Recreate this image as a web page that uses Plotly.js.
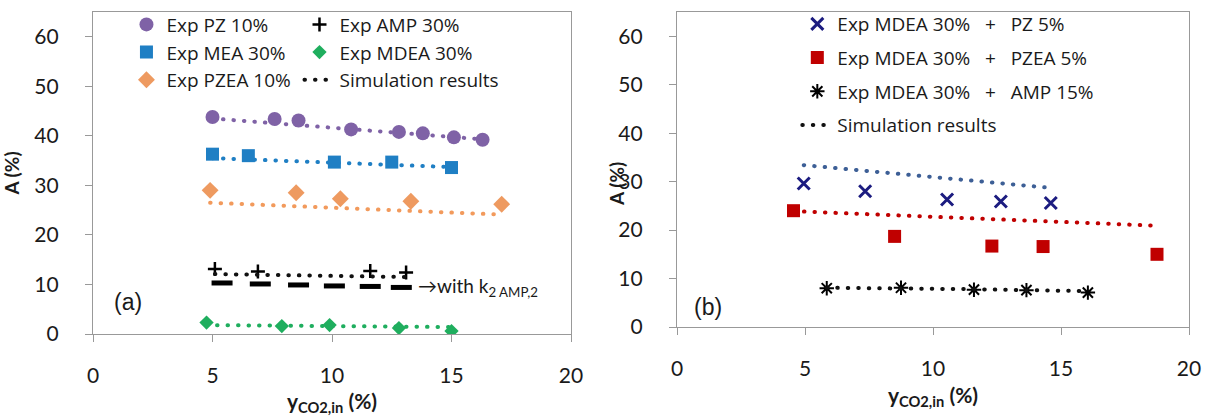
<!DOCTYPE html>
<html><head><meta charset="utf-8">
<script src="https://cdn.plot.ly/plotly-3.0.1.min.js"></script>
<style>
body{margin:0;background:#fff;}
#pa,#pb{position:absolute;top:0;height:416px;}
#pa{left:0;width:590px;} #pb{left:590px;width:618px;}
#pa path.js-line, #pb path.js-line, #pa .legendlines path, #pb .legendlines path {stroke-linecap: round;}
</style>
</head><body>
<div id="pa"></div><div id="pb"></div>
<script>
// ---------- Panel (a) data ----------
const pzX = [5.0, 7.6, 8.6, 10.8, 12.8, 13.8, 15.1, 16.3];
const pzY = [43.8, 43.4, 43.1, 41.3, 40.8, 40.5, 39.7, 39.2];
const pzSim = [43.5, 42.5, 42.1, 41.3, 40.6, 40.2, 39.7, 39.3];

const meaX = [5.0, 6.5, 10.1, 12.5, 15.0];
const meaY = [36.3, 36.0, 34.7, 34.7, 33.6];
const meaSim = [35.5, 35.2, 34.6, 34.2, 33.7];

const pzeaX = [4.9, 8.5, 10.35, 13.3, 17.1];
const pzeaY = [29.0, 28.5, 27.3, 26.8, 26.2];
const pzeaSim = [26.5, 25.8, 25.4, 24.8, 24.1];

const ampX = [5.1, 6.9, 11.6, 13.1];
const ampY = [13.1, 12.6, 12.7, 12.4];
const ampSim = [12.1, 12.0, 11.6, 11.5];

const ampK2X = [5.4, 7.0, 8.6, 10.1, 11.6, 12.9];
const ampK2Y = [10.3, 10.1, 9.9, 9.7, 9.6, 9.4];

const mdeaX = [4.75, 7.9, 9.9, 12.8, 15.0];
const mdeaY = [2.3, 1.6, 1.8, 1.2, 0.6];
const mdeaSim = [1.8, 1.7, 1.6, 1.5, 1.4];

// ---------- Panel (b) data ----------
const mpzX = [4.95, 7.35, 10.55, 12.65, 14.6];
const mpzY = [29.6, 28.0, 26.3, 25.9, 25.6];
const mpzSim = [33.4, 32.2, 30.7, 29.6, 28.7];

const mpzeaX = [4.55, 8.5, 12.3, 14.3, 18.75];
const mpzeaY = [24.0, 18.7, 16.7, 16.6, 15.0];
const mpzeaSim = [23.9, 23.1, 22.3, 21.8, 20.9];

const mampX = [5.85, 8.75, 11.6, 13.65, 16.05];
const mampY = [8.0, 8.1, 7.7, 7.6, 7.1];
const mampSim = [8.1, 8.0, 7.8, 7.6, 7.4];

const xTicks = [0, 5, 10, 15, 20];
const yTicks = [0, 10, 20, 30, 40, 50, 60];

// ---------- styling ----------
const FONT = 'Lato, "Open Sans", sans-serif';
const LFONT = '"Open Sans", Lato, sans-serif';
const TXT = '#1a1a1a';
const AX = '#999999';
const DOT = '0.5px,10px';

function simLine(x, y, color, name, show, extra) {
  return Object.assign({x: x, y: y, mode: 'lines', name: name || '', showlegend: !!show,
          hoverinfo: 'skip', line: {color: color, width: 4, dash: DOT}}, extra || {});
}
function pts(x, y, name, marker, extra) {
  return Object.assign({x: x, y: y, mode: 'markers', name: name, marker: marker,
          showlegend: true}, extra || {});
}
function axes(yStand, yTitle, yTitleStand, xStand, xTitleStand) {
  return {
    xaxis: {range: [0, 20], tickvals: xTicks, showline: true, linecolor: AX, linewidth: 1.2,
            mirror: true, ticks: 'outside', ticklen: 7, tickcolor: AX, showgrid: false,
            zeroline: false, tickfont: {family: FONT, size: 21, color: TXT},
            ticklabelstandoff: xStand,
            title: {text: '<b>y<sub>CO2,in</sub> (%)</b>', font: {family: FONT, size: 21, color: TXT},
                    standoff: xTitleStand}},
    yaxis: {range: [0, 65], tickvals: yTicks, showline: true, linecolor: AX, linewidth: 1.2,
            mirror: true, ticks: 'outside', ticklen: 7, tickcolor: AX, showgrid: false,
            zeroline: false, tickfont: {family: FONT, size: 21, color: TXT},
            ticklabelstandoff: yStand,
            title: {text: yTitle, font: {family: FONT, size: 19, color: TXT},
                    standoff: yTitleStand}}
  };
}
const legBase = {orientation: 'v', xanchor: 'left', yanchor: 'top',
                 font: {family: LFONT, size: 19, color: TXT}, bgcolor: 'rgba(0,0,0,0)',
                 traceorder: 'normal'};
const Y_TITLE = '<b>A (%)</b>';

// ---------- Panel (a) ----------
const tracesA = [
  simLine(pzX, pzSim, '#7f62a6'),
  simLine(meaX, meaSim, '#1f7fc4'),
  simLine(pzeaX, pzeaSim, '#f29a5c'),
  simLine(mdeaX, mdeaSim, '#1fae5e'),
  pts(pzX, pzY, 'Exp PZ 10%', {symbol: 'circle', size: 14, color: '#7f62a6'}, {legend: 'legend'}),
  pts(meaX, meaY, 'Exp MEA 30%', {symbol: 'square', size: 13, color: '#1f7fc4'}, {legend: 'legend'}),
  pts(pzeaX, pzeaY, 'Exp PZEA 10%', {symbol: 'diamond', size: 13, color: '#ee9a60'}, {legend: 'legend'}),
  pts(ampX, ampY, 'Exp AMP 30%', {symbol: 'cross-thin-open', size: 10, color: '#000',
      line: {width: 2.5, color: '#000'}}, {legend: 'legend2'}),
  pts(mdeaX, mdeaY, 'Exp MDEA 30%', {symbol: 'diamond', size: 11, color: '#1fae5e'}, {legend: 'legend2'}),
  simLine(ampX, ampSim, '#111111', 'Simulation results', true, {legend: 'legend2'}),
  {x: ampK2X, y: ampK2Y, mode: 'markers', showlegend: false, hoverinfo: 'skip',
   marker: {symbol: 'line-ew-open', size: 15, color: '#000', line: {width: 5, color: '#000'}}}
];
const layoutA = Object.assign({
  width: 590, height: 416, margin: {l: 93, r: 19, t: 12, b: 82, autoexpand: false},
  paper_bgcolor: '#fff', plot_bgcolor: '#fff',
  font: {family: FONT, color: TXT},
  legend: Object.assign({}, legBase, {x: 0.07, y: 1.02}),
  legend2: Object.assign({}, legBase, {x: 0.432, y: 1.02}),
  annotations: [
    {x: 1.45, y: 6.5, xref: 'x', yref: 'y', text: '(a)', showarrow: false,
     font: {family: '"Liberation Sans", Arial, sans-serif', size: 23, color: TXT}},
    {x: 13.5, y: 9.5, xref: 'x', yref: 'y', xanchor: 'left', text: '\u2192with k<sub>2 AMP,2</sub>',
     showarrow: false, font: {family: FONT, size: 19, color: TXT}}
  ]
}, axes(22, Y_TITLE, 14, 16, 12));
Plotly.newPlot('pa', tracesA, layoutA, {displayModeBar: false, staticPlot: true});

// ---------- Panel (b) ----------
const SEP = '\u00a0\u00a0\u00a0+\u00a0\u00a0\u00a0';
const tracesB = [
  simLine(mpzX, mpzSim, '#3d5f96'),
  simLine(mpzeaX, mpzeaSim, '#c00000'),
  pts(mpzX, mpzY, 'Exp MDEA 30%' + SEP + 'PZ 5%',
      {symbol: 'x-thin-open', size: 12, color: '#1c1c80', line: {width: 3, color: '#1c1c80'}},
      {legendgroup: 'g1'}),
  pts(mpzeaX, mpzeaY, 'Exp MDEA 30%' + SEP + 'PZEA 5%',
      {symbol: 'square', size: 13, color: '#c00000'}, {legendgroup: 'g2'}),
  pts(mampX, mampY, 'Exp MDEA 30%' + SEP + 'AMP 15%',
      {symbol: 'asterisk-open', size: 12, color: '#000', line: {width: 2, color: '#000'}},
      {legendgroup: 'g3'}),
  simLine(mampX, mampSim, '#111111', 'Simulation results', true, {legendgroup: 'g4'})
];
const layoutB = Object.assign({
  width: 618, height: 416, margin: {l: 87, r: 19, t: 12, b: 89, autoexpand: false},
  paper_bgcolor: '#fff', plot_bgcolor: '#fff',
  font: {family: FONT, color: TXT},
  legend: Object.assign({}, legBase, {x: 0.235, y: 1.022, tracegroupgap: 6, traceorder: 'grouped'}),
  annotations: [
    {x: 1.2, y: 4.1, xref: 'x', yref: 'y', text: '(b)', showarrow: false,
     font: {family: '"Liberation Sans", Arial, sans-serif', size: 23, color: TXT}},
    {x: -0.145, y: 0.455, xref: 'paper', yref: 'paper', text: Y_TITLE, textangle: -90,
     showarrow: false, font: {family: FONT, size: 19, color: TXT}}
  ]
}, axes(22, '', 0, 16, 8));
Plotly.newPlot('pb', tracesB, layoutB, {displayModeBar: false, staticPlot: true});
</script>
</body></html>
